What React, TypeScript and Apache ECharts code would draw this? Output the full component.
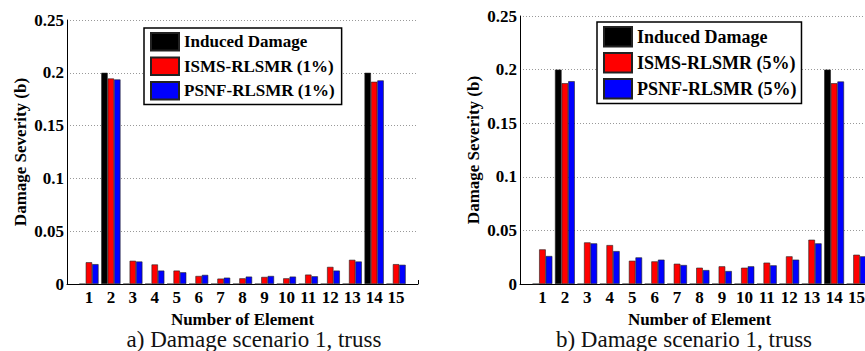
import React, { useEffect, useRef } from "react";
import * as echarts from "echarts";

// ---- data ----
const elements = ["1", "2", "3", "4", "5", "6", "7", "8", "9", "10", "11", "12", "13", "14", "15"];
const induced = [0, 0.2, 0, 0, 0, 0, 0, 0, 0, 0, 0, 0, 0, 0.2, 0];
const ismsA = [0.0206, 0.1946, 0.022, 0.0185, 0.0127, 0.0076, 0.0051, 0.0054, 0.0067, 0.0054, 0.0089, 0.0162, 0.0229, 0.1915, 0.0188];
const psnfA = [0.0188, 0.1937, 0.0213, 0.0127, 0.0111, 0.0086, 0.006, 0.007, 0.0076, 0.007, 0.0073, 0.0127, 0.0213, 0.1928, 0.0182];
const ismsB = [0.0323, 0.1873, 0.0388, 0.0363, 0.0217, 0.0211, 0.0189, 0.0152, 0.0165, 0.0152, 0.0199, 0.0258, 0.0413, 0.1873, 0.0273];
const psnfB = [0.0261, 0.1892, 0.0379, 0.0307, 0.0248, 0.0227, 0.0177, 0.013, 0.0121, 0.0165, 0.0174, 0.0227, 0.0379, 0.1889, 0.0258];
const yTicks = [0, 0.05, 0.1, 0.15, 0.2, 0.25];
const namesA = ["Induced Damage", "ISMS-RLSMR (1%)", "PSNF-RLSMR (1%)"];
const namesB = ["Induced Damage", "ISMS-RLSMR (5%)", "PSNF-RLSMR (5%)"];
const captions = ["a) Damage scenario 1, truss", "b) Damage scenario 1, truss"];
const xTitle = "Number of Element";
const yTitle = "Damage Severity (b)";

const FONT = "Liberation Serif";
const COLORS = ["#000000", "#ff0000", "#0000ff"];

export default function App() {
  const ref = useRef<HTMLDivElement>(null);
  useEffect(() => {
    if (!ref.current) return;
    const chart = echarts.init(ref.current, null, { renderer: "svg" });
    const cats = ["", ...elements, ""];
    const pad = (a: number[]) => [null, ...a, null];
    const bold = { fontFamily: FONT, fontWeight: "bold" as const, fontSize: 17, color: "#000" };

    const grids = [
      { left: 67, top: 20, width: 351, height: 264 },
      { left: 520, top: 16, width: 359, height: 268 },
    ];

    const xAxis = grids.map((_, i) => ({
      type: "category",
      gridIndex: i,
      data: cats,
      boundaryGap: false,
      axisLine: { lineStyle: { color: "#000", width: 1 } },
      axisTick: { show: true, inside: true, length: 4, interval: (idx: number) => idx === cats.length - 1, lineStyle: { color: "#000" } },
      axisLabel: { ...bold, margin: 5, interval: 0 },
      splitLine: { show: false },
      name: xTitle,
      nameLocation: "middle",
      nameGap: 20,
      nameTextStyle: { ...bold, lineHeight: 16 },
    }));

    const yAxis = grids.map((_, i) => ({
      type: "value",
      gridIndex: i,
      min: yTicks[0],
      max: yTicks[yTicks.length - 1],
      interval: yTicks[1] - yTicks[0],
      axisLine: { show: true, lineStyle: { color: "#000", width: 1 } },
      axisTick: { show: false },
      axisLabel: { ...bold, margin: 3, formatter: (v: number) => String(+v.toFixed(2)) },
      splitLine: { show: true, lineStyle: { color: "#999", type: [1, 2], width: 1 } },
      name: yTitle,
      nameLocation: "middle",
      nameGap: 38,
      nameRotate: 90,
      nameTextStyle: { ...bold },
    }));

    const mk = (name: string, data: number[], color: string, idx: number, bw: number) => ({
      type: "bar",
      name,
      data: pad(data),
      xAxisIndex: idx,
      yAxisIndex: idx,
      barWidth: bw,
      barGap: "0%",
      itemStyle: { color, borderColor: "#222", borderWidth: 0.6 },
    });

    const series = [
      mk(namesA[0], induced, COLORS[0], 0, 6.4),
      mk(namesA[1], ismsA, COLORS[1], 0, 6.4),
      mk(namesA[2], psnfA, COLORS[2], 0, 6.4),
      mk(namesB[0], induced, COLORS[0], 1, 6.6),
      mk(namesB[1], ismsB, COLORS[1], 1, 6.6),
      mk(namesB[2], psnfB, COLORS[2], 1, 6.6),
    ];

    const legendBase = {
      orient: "vertical",
      icon: "rect",
      itemWidth: 28,
      borderColor: "#000",
      borderWidth: 1.5,
      backgroundColor: "#fff",
      selectedMode: false,
    };

    const captionStyle = { fontFamily: FONT, fontSize: 23, lineHeight: 21, fill: "#111", textAlign: "center", textVerticalAlign: "middle" };

    chart.setOption({
      animation: false,
      backgroundColor: "#fff",
      grid: grids.map((g) => ({ ...g, containLabel: false, outerBoundsMode: "none" })),
      xAxis,
      yAxis,
      series,
      legend: [
        { ...legendBase, data: namesA, left: 144, top: 28, itemHeight: 17.5, itemGap: 5, padding: [4, 7, 4, 6], textStyle: { ...bold, fontSize: 17 } },
        { ...legendBase, data: namesB, left: 597, top: 22, itemHeight: 19.5, itemGap: 4.5, padding: [4, 5, 4, 6], textStyle: { ...bold, fontSize: 18 } },
      ],
      graphic: [
        { type: "text", x: 254, y: 339.5, style: { ...captionStyle, text: captions[0] } },
        { type: "text", x: 684, y: 339.5, style: { ...captionStyle, text: captions[1] } },
      ],
    });
    return () => chart.dispose();
  }, []);
  return (
    <div
      ref={ref}
      style={{ position: "fixed", left: 0, top: 0, width: 865, height: 351, overflow: "hidden", background: "#fff" }}
    />
  );
}
